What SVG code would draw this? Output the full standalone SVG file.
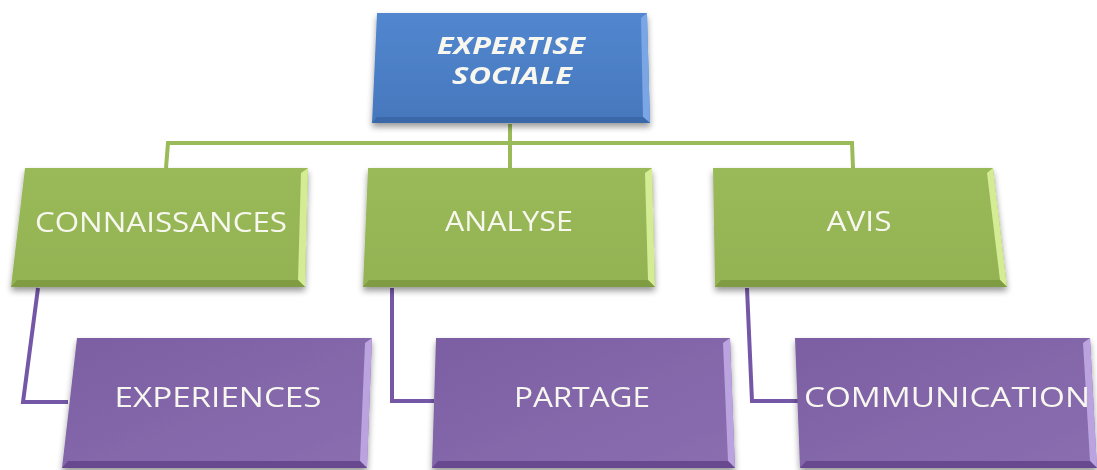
<svg xmlns="http://www.w3.org/2000/svg" width="1097" height="470" viewBox="0 0 1097 470">
<style>
.lbl{font-family:"Open Sans","Liberation Sans",sans-serif;fill:#f7f7ef;font-size:27px;text-anchor:middle}
.ttl{font-family:"Open Sans","Liberation Sans",sans-serif;fill:#f7f7ef;font-size:23px;font-weight:bold;font-style:italic;text-anchor:middle}
.cg{fill:none;stroke:#9bbb59;stroke-width:4;stroke-linejoin:miter}
.cp{fill:none;stroke:#7457a6;stroke-width:4;stroke-linejoin:miter}
.hb{fill:#7aa6e6}.db{fill:#3a68a8}
.hg{fill:#d4ec94}.dg{fill:#7f9c42}
.hp{fill:#bba3e0}.dp{fill:#674a90}
</style>
<defs>
<linearGradient id="gb" x1="0" y1="0" x2="0" y2="1"><stop offset="0" stop-color="#5287cf"/><stop offset="1" stop-color="#4677bd"/></linearGradient>
<linearGradient id="gg" x1="0" y1="0" x2="0" y2="1"><stop offset="0" stop-color="#9aba5a"/><stop offset="1" stop-color="#93b251"/></linearGradient>
<linearGradient id="gp" x1="0" y1="0" x2="1" y2="1"><stop offset="0" stop-color="#7c5fa3"/><stop offset="1" stop-color="#8a6eb0"/></linearGradient>
<filter id="sh" x="-10%" y="-10%" width="120%" height="130%"><feGaussianBlur in="SourceAlpha" stdDeviation="3"/><feOffset dx="0" dy="4"/><feComponentTransfer><feFuncA type="linear" slope="0.4"/></feComponentTransfer><feMerge><feMergeNode/><feMergeNode in="SourceGraphic"/></feMerge></filter>
</defs>
<rect width="1097" height="470" fill="#ffffff"/>
<g id="connectors">
<path class="cg" d="M510,124 V168"/>
<path class="cg" d="M166,168 L168,143 H852 L853,168"/>
<path class="cp" d="M38,288 L23,402 H68"/>
<path class="cp" d="M392,288 V401 H434"/>
<path class="cp" d="M747,288 L752,401 H798"/>
</g>
<g id="expertise-sociale" filter="url(#sh)">
<polygon points="377,13 647,13 650,123 372,123" fill="url(#gb)"/>
<polygon class="hb" points="647,13 650,123 643,117 641,18"/>
<polygon class="db" points="372,123 650,123 643,117 377,117"/>
<text class="ttl" x="511" y="54" textLength="148" lengthAdjust="spacingAndGlyphs">EXPERTISE</text>
<text class="ttl" x="512" y="84" textLength="120" lengthAdjust="spacingAndGlyphs">SOCIALE</text>
</g>
<g id="connaissances" filter="url(#sh)">
<polygon points="25,168 308,168 305,287 11,287" fill="url(#gg)"/>
<polygon class="hg" points="308,168 305,287 298,280 301,173"/>
<polygon class="dg" points="11,287 305,287 298,280 17,280"/>
<text class="lbl" x="161" y="232" textLength="252" lengthAdjust="spacingAndGlyphs">CONNAISSANCES</text>
</g>
<g id="analyse" filter="url(#sh)">
<polygon points="368,168 652,168 655,287 363,287" fill="url(#gg)"/>
<polygon class="hg" points="652,168 655,287 648,280 645,173"/>
<polygon class="dg" points="363,287 655,287 648,280 369,280"/>
<text class="lbl" x="509" y="231" textLength="128" lengthAdjust="spacingAndGlyphs">ANALYSE</text>
</g>
<g id="avis" filter="url(#sh)">
<polygon points="713,168 993,168 1007,287 715,287" fill="url(#gg)"/>
<polygon class="hg" points="993,168 1007,287 1000,280 987,173"/>
<polygon class="dg" points="715,287 1007,287 1000,280 721,280"/>
<text class="lbl" x="859" y="231" textLength="65" lengthAdjust="spacingAndGlyphs">AVIS</text>
</g>
<g id="experiences" filter="url(#sh)">
<polygon points="77,338 372,338 367,468 62,468" fill="url(#gp)"/>
<polygon class="hp" points="372,338 367,468 360,461 365,343"/>
<polygon class="dp" points="62,468 367,468 360,461 68,461"/>
<text class="lbl" x="218" y="407" textLength="207" lengthAdjust="spacingAndGlyphs">EXPERIENCES</text>
</g>
<g id="partage" filter="url(#sh)">
<polygon points="436,338 730,338 735,468 432,468" fill="url(#gp)"/>
<polygon class="hp" points="730,338 735,468 728,461 723,343"/>
<polygon class="dp" points="432,468 735,468 728,461 438,461"/>
<text class="lbl" x="582" y="407" textLength="136" lengthAdjust="spacingAndGlyphs">PARTAGE</text>
</g>
<g id="communication" filter="url(#sh)">
<polygon points="795,338 1090,338 1097,468 800,468" fill="url(#gp)"/>
<polygon class="hp" points="1090,338 1097,468 1090,461 1083,343"/>
<polygon class="dp" points="800,468 1097,468 1090,461 806,461"/>
<text class="lbl" x="947" y="407" textLength="286" lengthAdjust="spacingAndGlyphs">COMMUNICATION</text>
</g>
</svg>
